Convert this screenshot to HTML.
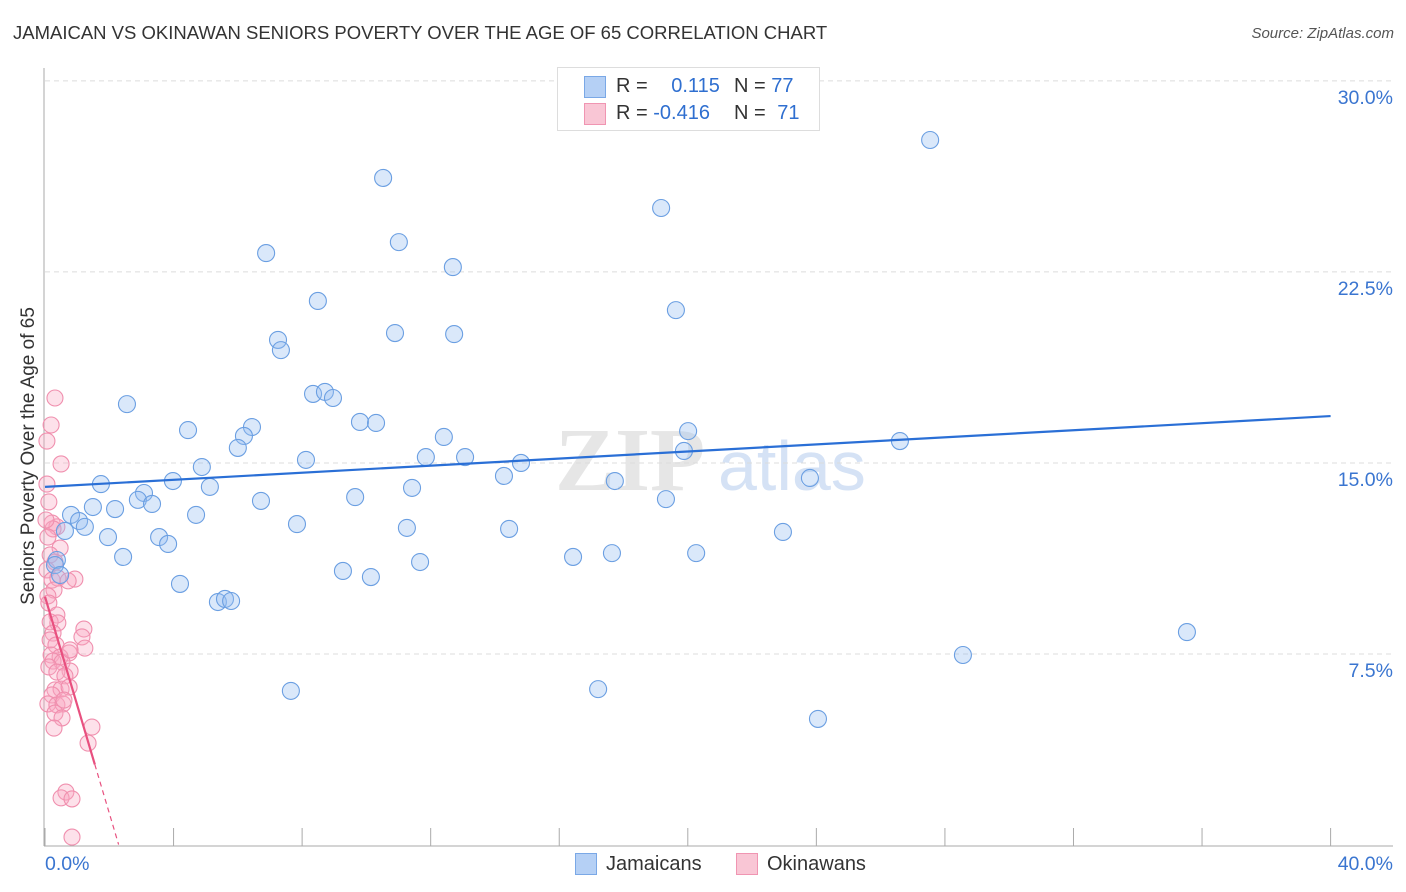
<!DOCTYPE html>
<html><head><meta charset="utf-8"><style>
body{margin:0;width:1406px;height:892px;background:#fff;font-family:"Liberation Sans",sans-serif;overflow:hidden;position:relative}
.t{position:absolute;white-space:nowrap}
</style></head><body>
<div class="t" style="left:13px;top:22px;font-size:18.5px;color:#333">JAMAICAN VS OKINAWAN SENIORS POVERTY OVER THE AGE OF 65 CORRELATION CHART</div>
<div class="t" style="right:12px;top:25px;font-size:15px;color:#555;font-style:italic">Source: ZipAtlas.com</div>
<svg id="chart" width="1406" height="892" style="position:absolute;left:0;top:0"></svg>
<script>
const xTicks=[0,4,8,12,16,20,24,28,32,36,40];
const yTicks=[7.5,15,22.5,30];
const yTickLabels=["7.5%","15.0%","22.5%","30.0%"];
const jamX=[27.54,10.52,19.17,11.01,6.88,12.69,8.49,19.63,10.89,12.73,7.25,7.34,8.34,8.71,8.96,2.55,9.80,10.30,6.44,4.45,6.19,20.01,12.41,26.60,6.00,19.88,11.85,13.07,8.12,4.88,14.81,14.28,17.73,23.80,3.98,1.74,5.13,11.42,3.08,9.65,2.89,19.32,6.72,3.33,1.49,2.18,0.81,4.70,1.06,1.24,7.84,11.26,14.44,0.62,1.96,22.96,3.55,3.83,0.37,2.43,16.43,17.64,20.26,11.67,9.27,10.14,4.20,5.38,5.60,5.79,35.53,28.56,7.65,17.21,24.05,0.31,0.47,21.47];
const jamY=[27.68,26.19,25.01,23.67,23.24,22.69,21.36,21.00,20.10,20.06,19.83,19.43,17.71,17.79,17.55,17.31,16.61,16.57,16.41,16.29,16.06,16.25,16.02,15.86,15.59,15.47,15.23,15.23,15.12,14.84,15.00,14.49,14.29,14.41,14.29,14.17,14.06,14.02,13.82,13.66,13.55,13.58,13.51,13.39,13.27,13.19,12.96,12.96,12.72,12.49,12.60,12.45,12.41,12.33,12.09,12.29,12.09,11.82,11.19,11.31,11.31,11.46,11.46,11.11,10.76,10.52,10.25,9.54,9.66,9.58,8.36,7.46,6.05,6.12,4.95,10.99,10.60,29.84];
const okiX=[0.31,0.19,0.06,0.50,0.06,0.12,0.22,0.37,0.25,0.09,0.47,0.16,0.31,0.06,0.22,0.40,0.93,0.72,0.28,0.09,0.12,0.37,0.16,0.40,1.21,0.25,1.15,0.16,0.34,1.24,0.75,0.19,0.47,0.25,0.53,0.12,0.78,0.37,0.62,0.31,0.50,0.75,0.22,0.09,0.37,0.56,0.31,0.53,0.28,1.46,1.34,0.65,0.50,0.84,0.84,0.03,0.59,0.78];
const okiY=[17.55,16.49,15.86,14.96,14.17,13.47,12.64,12.49,12.41,12.09,11.66,11.39,11.11,10.80,10.40,10.48,10.44,10.37,10.01,9.78,9.50,9.03,8.76,8.72,8.48,8.32,8.17,8.05,7.85,7.73,7.54,7.46,7.38,7.22,7.18,6.99,6.83,6.79,6.64,6.09,6.12,6.20,5.89,5.54,5.50,5.54,5.18,4.99,4.59,4.63,4.00,2.08,1.85,1.81,0.31,12.76,5.69,7.66];
const jamTrend=[14.06,16.84];
const okiTrend=[9.75,-4.25];
const X=v=>45+v*32.14, Y=v=>845-v*25.47;
const svg=document.getElementById('chart');const NS='http://www.w3.org/2000/svg';
function mk(t,a,p){const e=document.createElementNS(NS,t);for(const k in a)e.setAttribute(k,a[k]);(p||svg).appendChild(e);return e;}
const wm=mk('text',{x:555,y:490,'font-size':90,fill:'#e6e6e6','font-family':'Liberation Serif, serif','font-weight':'bold'});wm.textContent='ZIP';


const wm2=mk('text',{x:718,y:490,'font-size':70,fill:'#d5e2f5','font-family':'Liberation Sans, sans-serif'});wm2.textContent='atlas';


yTicks.forEach((v,i)=>{
 const g=mk('line',{x1:45,x2:1393,y1:Y(v),y2:Y(v),stroke:'#dcdcdc','stroke-dasharray':'5,4'});
 
 
 const t=mk('text',{x:1393,y:Y(v)+23,'text-anchor':'end','font-size':19.5,fill:'#3a75d0'});t.textContent=yTickLabels[i];
 
 
});
const ya=mk('line',{x1:44,x2:44,y1:68,y2:846,stroke:'#aaa'});


const xa=mk('line',{x1:44,x2:1393,y1:846,y2:846,stroke:'#aaa'});


xTicks.forEach(v=>{const l=mk('line',{x1:X(v),x2:X(v),y1:828,y2:846,stroke:'#aaa'});
 
 });
const xl0=mk('text',{x:45,y:870,'font-size':19.5,fill:'#3a75d0'});xl0.textContent='0.0%';


const xl1=mk('text',{x:1393,y:870,'text-anchor':'end','font-size':19.5,fill:'#3a75d0'});xl1.textContent='40.0%';


const yt=mk('text',{x:0,y:0,'font-size':19,fill:'#333','text-anchor':'middle',transform:'translate(34,456) rotate(-90)'});yt.textContent='Seniors Poverty Over the Age of 65';


okiX.forEach((x,i)=>{const c=mk('circle',{cx:X(x),cy:Y(okiY[i]),r:8,fill:'rgba(248,170,195,0.35)',stroke:'#f08fae','stroke-width':1.1});
 
 });
jamX.forEach((x,i)=>{const c=mk('circle',{cx:X(x),cy:Y(jamY[i]),r:8.5,fill:'rgba(150,190,240,0.35)',stroke:'#6b9fe2','stroke-width':1.1});
 
 });
const jt=mk('line',{x1:X(0),y1:Y(jamTrend[0]),x2:X(40),y2:Y(jamTrend[1]),stroke:'#2a6fd6','stroke-width':2.2});


const ok=x=>okiTrend[0]+okiTrend[1]*x;
const ot=mk('line',{x1:X(0),y1:Y(ok(0)),x2:X(1.55),y2:Y(ok(1.55)),stroke:'#e8507f','stroke-width':2.2});


const od=mk('line',{x1:X(1.55),y1:Y(ok(1.55)),x2:X(2.29),y2:Y(ok(2.29)),stroke:'#e8507f','stroke-width':1.2,'stroke-dasharray':'5,4'});


</script>
<div style="position:absolute;left:557px;top:67px;width:261px;height:62px;border:1px solid #ddd;background:#fff;font-size:20px;color:#333">
 <div style="position:absolute;left:26px;top:8px;width:20px;height:20px;background:#b5d0f5;border:1px solid #7aa8e6"></div>
 <div class="t" style="left:58px;top:7px">R = <span style="color:#2f6fd0;margin-left:18px">0.115</span></div>
 <div class="t" style="left:176px;top:7px">N = <span style="color:#2f6fd0">77</span></div>
 <div style="position:absolute;left:26px;top:35px;width:20px;height:20px;background:#f9c6d5;border:1px solid #f095b2"></div>
 <div class="t" style="left:58px;top:34px">R = <span style="color:#2f6fd0">-0.416</span></div>
 <div class="t" style="left:176px;top:34px">N = <span style="color:#2f6fd0;margin-left:6px">71</span></div>
</div>
<div style="position:absolute;left:575px;top:853px;font-size:20px;color:#333">
 <div style="position:absolute;left:0;top:0;width:20px;height:20px;background:#b5d0f5;border:1px solid #7aa8e6"></div>
 <span class="t" style="left:31px;top:0">Jamaicans</span></div>
<div style="position:absolute;left:736px;top:853px;font-size:20px;color:#333">
 <div style="position:absolute;left:0;top:0;width:20px;height:20px;background:#f9c6d5;border:1px solid #f095b2"></div>
 <span class="t" style="left:31px;top:0">Okinawans</span></div>
</body></html>
